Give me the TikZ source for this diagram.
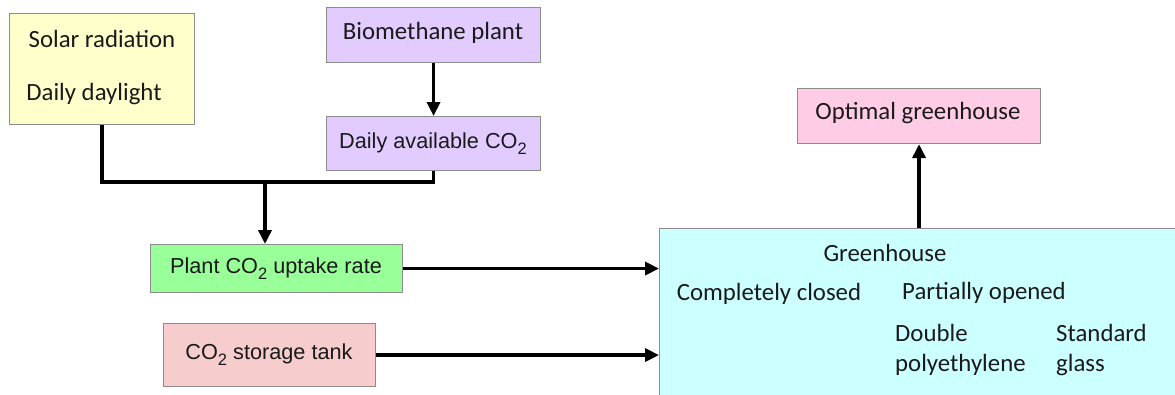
\documentclass[tikz,border=0pt]{standalone}
\usepackage{fontspec}
\setmainfont{Carlito}
\newfontfamily\arialfont{Liberation Sans}
\usetikzlibrary{arrows.meta}
\definecolor{solarfill}{HTML}{FFFFCC}
\definecolor{biofill}{HTML}{E2CCFF}
\definecolor{plantfill}{HTML}{99FF99}
\definecolor{tankfill}{HTML}{F6CCCC}
\definecolor{ghfill}{HTML}{CCFFFF}
\definecolor{optfill}{HTML}{FFCCE6}
\definecolor{edgegray}{HTML}{8C8C8C}
\definecolor{ink}{HTML}{1A1A1A}
\newcommand\cotwo{CO\raisebox{-0.28em}{\fontsize{16.5}{16.5}\selectfont 2}}
\begin{document}
\begin{tikzpicture}[x=1pt,y=-1pt,
  box/.style={draw=edgegray,line width=1.1pt,rectangle,anchor=north west,inner sep=0pt},
  lbl/.style={text=ink,inner sep=0pt,font=\fontsize{24.8}{30}\selectfont},
  albl/.style={text=ink,inner sep=0pt,font=\arialfont\fontsize{21.7}{25}\selectfont},
  link/.style={line width=3.6pt,draw=black},
  flow/.style={link,-{Triangle[length=14pt,width=13pt]}}]
\useasboundingbox (0,0) rectangle (1175,394);
\begin{scope}
\clip (0,0) rectangle (1175,394);
% input boxes
\node[box,fill=solarfill,minimum width=185pt,minimum height=111pt] (solar) at (9,13) {};
\node[lbl] (solarA) at (102,39) {Solar radiation};
\node[lbl] (solarB) at (94,94) {Daily daylight};
\node[box,fill=biofill,minimum width=214pt,minimum height=55pt] (bio) at (326,7) {};
\node[lbl] (bioT) at (433,33) {Biomethane plant};
\node[box,fill=biofill,minimum width=214pt,minimum height=54pt] (daily) at (326,116) {};
\node[albl] (dailyT) at (433,144) {Daily available \cotwo};
\node[box,fill=plantfill,minimum width=252pt,minimum height=48pt] (plant) at (150,244) {};
\node[albl] (plantT) at (276,269) {Plant \cotwo{} uptake rate};
\node[box,fill=tankfill,minimum width=212pt,minimum height=63pt] (tank) at (163,323) {};
\node[albl] (tankT) at (269,355) {\cotwo{} storage tank};
% greenhouse and result
\node[box,fill=ghfill,minimum width=540pt,minimum height=190pt] (gh) at (659,228) {};
\node[lbl] (ghT) at (885,253) {Greenhouse};
\node[lbl] (closed) at (769,294) {Completely closed};
\node[lbl] (partial) at (984,293) {Partially opened};
\node[lbl,anchor=west,align=left] (poly) at (895,350) {Double\\polyethylene};
\node[lbl,anchor=west,align=left] (glass) at (1056,350) {Standard\\glass};
\node[box,fill=optfill,minimum width=243pt,minimum height=55pt] (opt) at (797,88) {};
\node[lbl] (optT) at (918,113) {Optimal greenhouse};
% connectors
\coordinate (join) at (265,182);
\draw[link] (solar.south) |- (join) -| (daily.south);
\draw[flow] (join) -- (join |- plant.north);
\draw[flow] (bio.south) -- (daily.north);
\draw[flow] (plant.east) -- (gh.west |- plant.east);
\draw[flow] (tank.east) -- (gh.west |- tank.east);
\draw[flow] (opt.south |- gh.north) -- (opt.south);
\end{scope}
\end{tikzpicture}
\end{document}
